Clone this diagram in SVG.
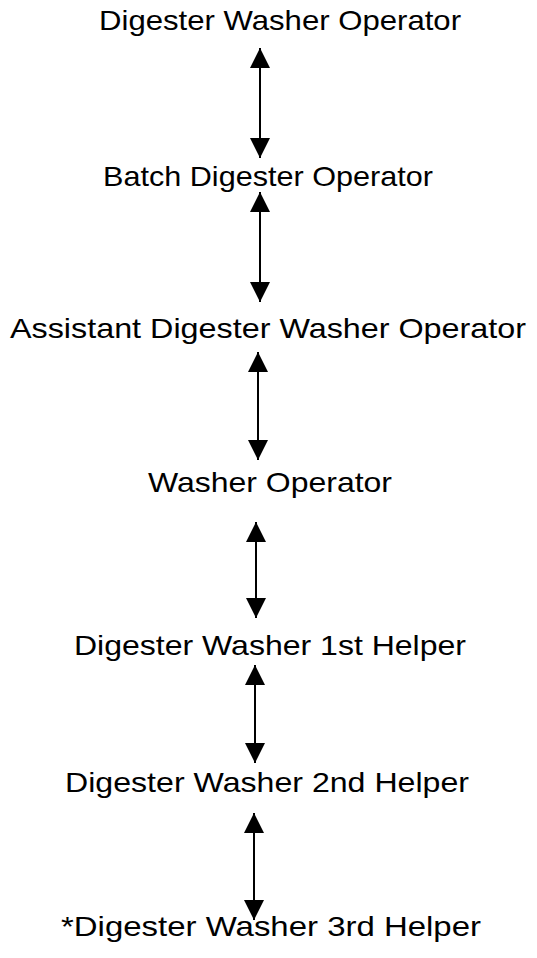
<svg xmlns="http://www.w3.org/2000/svg" width="537" height="958" viewBox="0 0 537 958">
<style>
  .lbl { font-family: "Liberation Sans", Arial, sans-serif; font-size: 28px; fill: #000; text-anchor: middle; }
  .conn { stroke: #000; stroke-width: 2; fill: none; marker-start: url(#ah); marker-end: url(#ah); }
</style>
<defs>
  <marker id="ah" viewBox="0 0 20 20" refX="20" refY="10" markerWidth="20" markerHeight="20" markerUnits="userSpaceOnUse" orient="auto-start-reverse">
    <path d="M0,0 L20,10 L0,20 z" fill="#000"/>
  </marker>
</defs>
<rect width="537" height="958" fill="#fff"/>
<g id="connectors">
  <line class="conn" x1="260" y1="48" x2="260" y2="158"/>
  <line class="conn" x1="260" y1="192" x2="260" y2="302"/>
  <line class="conn" x1="258" y1="352" x2="258" y2="460"/>
  <line class="conn" x1="256" y1="522" x2="256" y2="618"/>
  <line class="conn" x1="255" y1="665" x2="255" y2="763"/>
  <line class="conn" x1="254" y1="813" x2="254" y2="920"/>
</g>
<g id="n1"><text class="lbl" x="280" y="30" textLength="362" lengthAdjust="spacingAndGlyphs">Digester Washer Operator</text></g>
<g id="n2"><text class="lbl" x="268" y="186" textLength="330" lengthAdjust="spacingAndGlyphs">Batch Digester Operator</text></g>
<g id="n3"><text class="lbl" x="268" y="338" textLength="516" lengthAdjust="spacingAndGlyphs">Assistant Digester Washer Operator</text></g>
<g id="n4"><text class="lbl" x="270" y="492" textLength="244" lengthAdjust="spacingAndGlyphs">Washer Operator</text></g>
<g id="n5"><text class="lbl" x="270" y="655" textLength="392" lengthAdjust="spacingAndGlyphs">Digester Washer 1st Helper</text></g>
<g id="n6"><text class="lbl" x="267" y="792" textLength="404" lengthAdjust="spacingAndGlyphs">Digester Washer 2nd Helper</text></g>
<g id="n7"><text class="lbl" x="271" y="936" textLength="420" lengthAdjust="spacingAndGlyphs">*Digester Washer 3rd Helper</text></g>
</svg>
